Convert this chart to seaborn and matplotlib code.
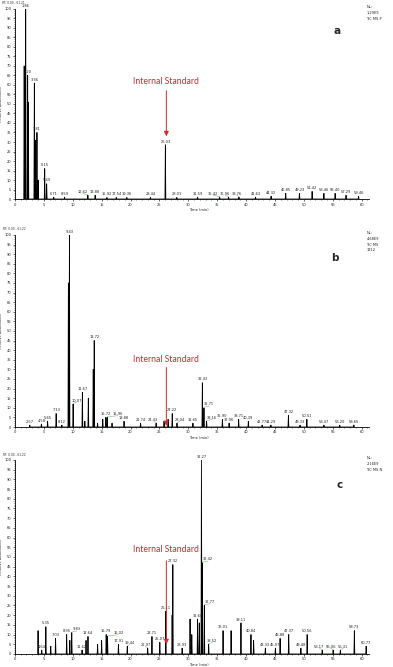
import matplotlib
matplotlib.use("Agg")
import matplotlib.pyplot as plt
from matplotlib.ticker import MultipleLocator
import pandas as pd
import seaborn as sns

# Panel a - retention time (min), relative abundance (%), peak label
a_rt = [1.60, 1.72, 1.86, 2.20, 2.32, 3.36, 3.52, 3.81, 4.02, 5.15, 5.49, 6.71, 8.59,
        12.62, 13.88, 15.92, 17.54, 19.36, 23.44, 26.03, 28.01, 31.59, 35.42, 36.96,
        38.76, 41.63, 44.32, 46.85, 49.23, 51.42, 53.46, 55.40, 57.29, 59.46]
a_height = [70, 61, 100, 65, 51, 61, 31, 35, 10, 16, 8, 1, 1,
            2, 2, 0.8, 0.8, 0.8, 0.8, 28.5, 0.8, 1, 1, 1,
            1, 1, 1.5, 3, 3, 4, 3, 3, 2, 1.5]
a_label = ["", "", "1.86", "2.20", "", "3.36", "", "3.81", "", "5.15", "5.49", "6.71", "8.59",
           "12.62", "13.88", "15.92", "17.54", "19.36", "23.44", "26.03", "28.01", "31.59",
           "35.42", "36.96", "38.76", "41.63", "44.32", "46.85", "49.23", "51.42", "53.46",
           "55.40", "57.29", "59.46"]

# Panel b
b_rt = [2.57, 4.58, 5.65, 7.13, 8.12, 9.25, 9.43, 10.07, 11.67, 12.10, 12.70, 13.55, 13.72,
        14.30, 15.20, 15.72, 15.96, 16.80, 18.88, 21.74, 24.43, 25.80, 26.50, 27.22, 28.04,
        30.80, 32.43, 32.71, 33.16, 35.90, 37.06, 38.71, 40.39, 42.77, 44.29, 47.32, 49.33,
        50.51, 53.47, 56.20, 58.65]
b_height = [1, 1.5, 3, 7, 1, 75, 100, 12, 18, 3, 15, 30, 45,
            2, 4, 5, 5, 2, 3, 2, 2, 3, 4, 7, 2,
            2, 23, 10, 3, 4, 2, 4, 3, 1, 1, 6, 1,
            4, 1, 1, 1]
b_label = ["2.57", "4.58", "5.65", "7.13", "8.12", "", "9.43", "10.07", "11.67", "", "", "",
           "13.72", "", "", "15.72", "15.96", "", "18.88", "21.74", "24.43", "", "", "27.22",
           "28.04", "31.65", "32.43", "32.71", "33.16", "35.90", "37.06", "38.71", "40.39",
           "42.77", "44.29", "47.32", "49.33", "50.51", "53.47", "56.20", "58.65"]

# Panel c
c_rt = [4.00, 4.64, 5.35, 6.20, 7.03, 8.95, 9.50, 9.83, 11.62, 12.30, 12.64, 14.30, 15.00,
        15.79, 16.02, 17.91, 19.44, 22.97, 23.71, 25.07, 26.11, 27.20, 27.32, 28.93, 30.30,
        30.60, 31.60, 31.90, 32.27, 32.42, 32.77, 33.52, 36.01, 37.40, 39.11, 40.84, 41.30,
        43.33, 45.07, 45.88, 47.37, 49.48, 50.56, 53.17, 55.06, 56.31, 58.73, 60.77]
c_height = [12, 2, 14, 4, 8, 10, 7, 11, 2, 7, 9, 5, 7,
            10, 9, 5, 4, 3, 9, 6, 22, 20, 46, 3, 18,
            10, 18, 16, 100, 47, 25, 5, 12, 12, 16, 10, 7,
            3, 3, 8, 10, 3, 10, 2, 2, 2, 12, 4]
c_label = ["", "4.64", "5.35", "", "7.03", "8.95", "", "9.83", "11.62", "", "12.64", "", "",
           "15.79", "16.02", "17.91", "19.44", "22.97", "23.71", "25.07", "26.11", "", "27.32",
           "28.93", "", "", "31.60", "", "32.27", "32.42", "32.77", "33.52", "36.01", "",
           "39.11", "40.84", "", "43.33", "45.07", "45.88", "47.37", "49.48", "50.56",
           "53.17", "55.06", "56.31", "58.73", "60.77"]

rt_ranges = ["RT: 0.00 - 61.21", "RT: 0.00 - 61.22", "RT: 0.00 - 61.22"]
nl_notes = ["NL:\n1.29E9\nTIC MS P", "NL:\n4.68E9\nTIC MS\n1312", "NL:\n2.16E9\nTIC MS N"]
letters = ["a", "b", "c"]
# (text height, arrow start, arrow tip) in % abundance
std_marks = [(62, 57, 33), (35, 31, 0.5), (54, 48, 5)]

# labels moved sideways (min) with a green leader, as the instrument software does
label_shift = [
    {"12.62": -0.9, "35.42": -1.1, "36.96": -0.6, "38.76": -0.4},
    {"10.07": 0.6, "15.96": 1.9, "24.43": -0.5, "28.04": 0.5,
     "32.71": 0.9, "33.16": 0.9},
    {"9.83": 0.9, "16.02": 1.9, "19.44": 0.5, "22.97": -0.4, "32.42": 1.0,
     "32.77": 1.0, "33.52": 0.6, "53.17": -0.5, "55.06": -0.4, "56.31": 0.5},
]


def peak_table(rt, height, half_width=0.07):
    rows = []
    for t, h in sorted(zip(rt, height)):
        rows += [(t - half_width, 0.0), (t, h), (t + half_width, 0.0)]
    return pd.DataFrame(rows, columns=["time", "abundance"])


def draw_panel(ax, rt, height, labels, shifts, nl_text, mark):
    df = peak_table(rt, height)
    sns.lineplot(data=df, x="time", y="abundance", ax=ax, sort=False,
                 estimator=None, color="black", lw=0.6)
    for t, h, lab in zip(rt, height, labels):
        if not lab:
            continue
        dx = shifts.get(lab, 0.0)
        if dx:
            ax.plot([t, t + dx], [h + 0.3, h + 0.9], color="#7cb87c", lw=0.4)
        ax.text(t + dx, h + 0.7, lab, fontsize=2.6, ha="center", va="bottom",
                color="#222222", clip_on=False)

    ax.set_xlim(0, 61.2)
    ax.set_ylim(0, 100)
    ax.xaxis.set_major_locator(MultipleLocator(5))
    ax.xaxis.set_minor_locator(MultipleLocator(1))
    ax.yaxis.set_major_locator(MultipleLocator(5))
    ax.yaxis.set_minor_locator(MultipleLocator(1))
    ax.tick_params(which="major", length=1.5, width=0.5, labelsize=2.6, pad=1)
    ax.tick_params(which="minor", length=0.8, width=0.4)
    ax.tick_params(axis="x", which="both", bottom=True)
    ax.tick_params(axis="y", which="both", left=True)
    ax.set_xlabel("Time (min)", fontsize=2.6, labelpad=1)
    ax.xaxis.set_label_coords(0.52, -0.045)
    ax.set_ylabel("Relative Abundance", fontsize=2.6, labelpad=1)
    for s in ["left", "bottom"]:
        ax.spines[s].set_linewidth(0.6)
        ax.spines[s].set_color("black")
    sns.despine(ax=ax)

    ax.text(0.994, 1.02, nl_text, transform=ax.transAxes, fontsize=2.6,
            ha="left", va="top", linespacing=1.6)

    text_y, tail_y, tip_y = mark
    ax.text(26.2, text_y, "Internal Standard", fontsize=6.2, color="#c0312f",
            ha="center", va="center", family=["Lato", "DejaVu Sans"])
    ax.annotate("", xy=(26.2, tip_y), xytext=(26.2, tail_y),
                arrowprops=dict(arrowstyle="-|>", color="#d42a2a", lw=0.7,
                                mutation_scale=7, shrinkA=0, shrinkB=0))


sns.set_theme(style="white")
plt.rcParams["font.family"] = ["DejaVu Sans"]

fig = plt.figure(figsize=(3.93, 6.67), dpi=100)
boxes = [(0.038, 0.7016, 0.90, 0.285),
         (0.038, 0.3598, 0.90, 0.288),
         (0.038, 0.0195, 0.90, 0.291)]
letter_pos = [(337, 31), (335, 258), (340, 485)]
rt_pos = [(2, 0.6), (3, 227), (3, 453)]
panels = [(a_rt, a_height, a_label), (b_rt, b_height, b_label), (c_rt, c_height, c_label)]

for i, (rt, height, labels) in enumerate(panels):
    ax = fig.add_axes(boxes[i])
    draw_panel(ax, rt, height, labels, label_shift[i], nl_notes[i], std_marks[i])
    rx, ry = rt_pos[i]
    fig.text(rx / 393, 1 - ry / 667, rt_ranges[i], fontsize=2.1, ha="left", va="top")
    lx, ly = letter_pos[i]
    fig.text(lx / 393, 1 - ly / 667, letters[i], fontsize=7.5, fontweight="bold",
             ha="center", va="center")

fig.savefig("out.png", dpi=100)
